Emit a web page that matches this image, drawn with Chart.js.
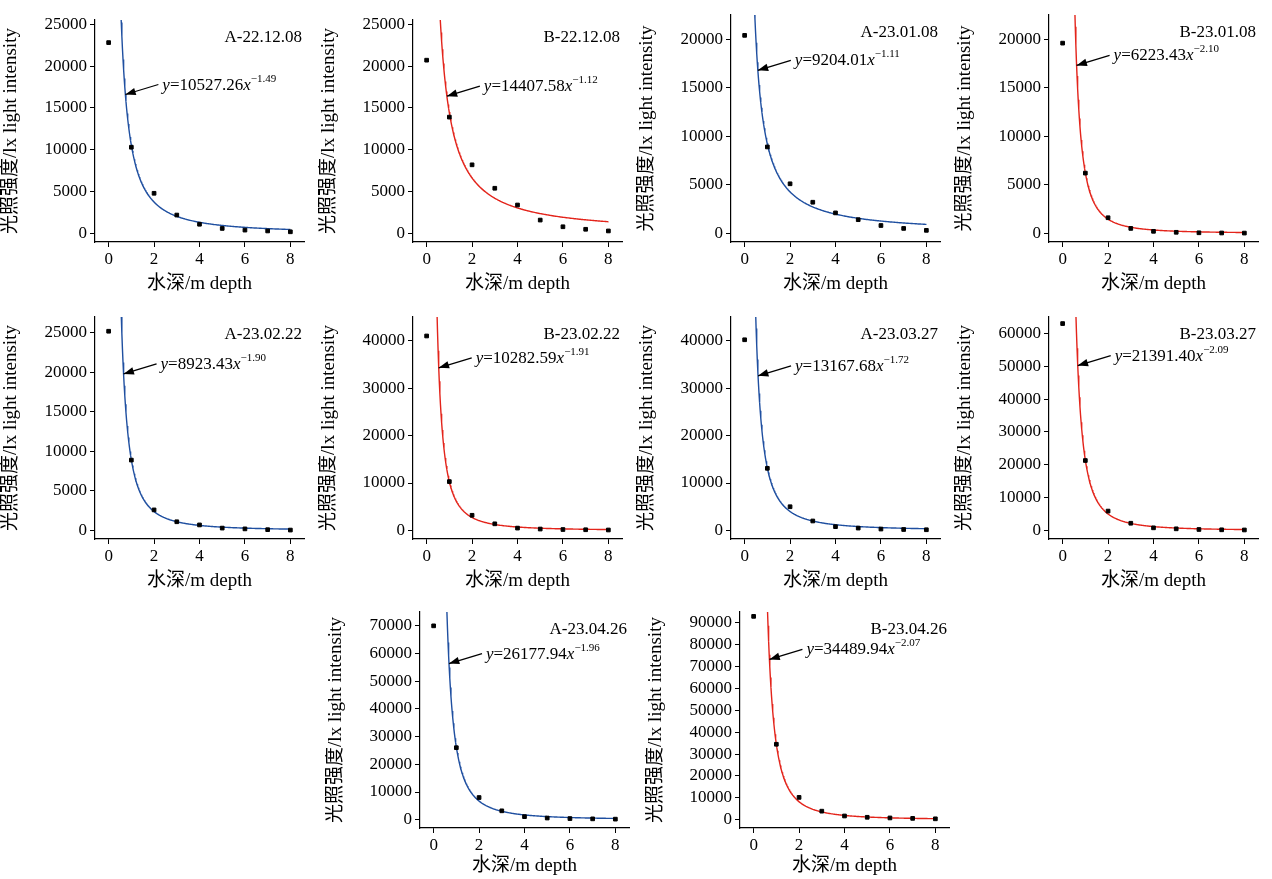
<!DOCTYPE html>
<html><head><meta charset="utf-8">
<script src="https://cdn.jsdelivr.net/npm/chart.js@4/dist/chart.umd.min.js"></script>
<style>
body{margin:0;background:#fff;width:1272px;height:879px;position:relative;overflow:hidden}
.p{position:absolute;width:318px;height:295px}
</style></head><body>
<script>
const depths = [0, 1, 2, 3, 4, 5, 6, 7, 8];
const names = ['A-22.12.08','B-22.12.08','A-23.01.08','B-23.01.08','A-23.02.22','B-23.02.22','A-23.03.27','B-23.03.27','A-23.04.26','B-23.04.26'];
const coefA = [10527.26, 14407.58, 9204.01, 6223.43, 8923.43, 10282.59, 13167.68, 21391.40, 26177.94, 34489.94];
const coefB = [-1.49, -1.12, -1.11, -2.10, -1.90, -1.91, -1.72, -2.09, -1.96, -2.07];
const lightA2212 = [22800, 10300, 4800, 2200, 1100, 600, 400, 300, 200];
const lightB2212 = [20700, 13900, 8200, 5400, 3400, 1600, 800, 500, 300];
const lightA2301 = [20400, 8900, 5100, 3200, 2100, 1400, 800, 500, 300];
const lightB2301 = [19600, 6200, 1600, 500, 200, 100, 50, 30, 20];
const lightA2302 = [25200, 8900, 2600, 1100, 700, 300, 200, 100, 50];
const lightB2302 = [41000, 10300, 3200, 1400, 500, 300, 200, 150, 100];
const lightA2303 = [40200, 13100, 5000, 2000, 800, 500, 300, 200, 150];
const lightB2303 = [63000, 21300, 5900, 2200, 800, 500, 300, 200, 150];
const lightA2304 = [70000, 26000, 8000, 3200, 1100, 600, 400, 300, 200];
const lightB2304 = [93000, 34500, 10200, 3900, 1700, 1100, 800, 600, 400];
const series = [lightA2212, lightB2212, lightA2301, lightB2301, lightA2302, lightB2302, lightA2303, lightB2303, lightA2304, lightB2304];
const yMaxes = [25500, 25500, 22500, 22500, 27000, 45000, 45000, 65000, 75000, 95000];
const ySteps = [5000, 5000, 5000, 5000, 5000, 10000, 10000, 10000, 10000, 10000];
// light value where each arrow touches its curve
const arrowY = [16600, 16400, 16800, 17300, 19800, 34300, 32600, 50200, 56400, 73300];

const pos = [[0,0],[318,0],[636,0],[954,0],[0,297],[318,297],[636,297],[954,297],[325,582],[645,582]];
const BLUE = '#1f4fa0', RED = '#e3241b';
const SERIF = '"Liberation Serif", "Noto Sans CJK SC"';

const annot = {
  id: 'annot',
  afterDatasetsDraw(chart, args, o) {
    const {ctx, chartArea: ca, scales: {x, y}} = chart;
    ctx.save();
    ctx.fillStyle = '#000'; ctx.strokeStyle = '#000';
    ctx.font = '17px "Liberation Serif"';
    ctx.textAlign = 'right'; ctx.textBaseline = 'alphabetic';
    ctx.fillText(o.name, ca.right - 2, ca.top + 22);
    const xv = Math.pow(o.ay / o.a, 1 / o.b);
    const tx = x.getPixelForValue(xv), ty = y.getPixelForValue(o.ay);
    const ex = tx + 33, ey = ty - 10;
    ctx.lineWidth = 1.3;
    ctx.beginPath(); ctx.moveTo(ex, ey); ctx.lineTo(tx, ty); ctx.stroke();
    const ang = Math.atan2(ey - ty, ex - tx);
    ctx.beginPath();
    ctx.moveTo(tx, ty);
    ctx.lineTo(tx + 11 * Math.cos(ang - 0.35), ty + 11 * Math.sin(ang - 0.35));
    ctx.lineTo(tx + 11 * Math.cos(ang + 0.35), ty + 11 * Math.sin(ang + 0.35));
    ctx.closePath(); ctx.fill();
    ctx.textAlign = 'left';
    let cx = ex + 4; const by = ey + 5;
    const put = (t, f, dy) => { ctx.font = f; ctx.fillText(t, cx, by + (dy || 0)); cx += ctx.measureText(t).width; };
    put('y', 'italic 17px "Liberation Serif"');
    put('=' + o.a.toFixed(2), '17px "Liberation Serif"');
    put('x', 'italic 17px "Liberation Serif"');
    put('\u2212' + Math.abs(o.b).toFixed(2), '11px "Liberation Serif"', -8);
    ctx.restore();
  }
};

names.forEach((name, i) => {
  const d = document.createElement('div');
  d.className = 'p'; d.style.left = pos[i][0] + 'px'; d.style.top = pos[i][1] + 'px';
  const c = document.createElement('canvas'); c.width = 318; c.height = 295;
  d.appendChild(c); document.body.appendChild(d);
  const color = name[0] === 'A' ? BLUE : RED;
  const curve = [];
  for (let k = 0; k <= 300; k++) { const xv = 0.3 + k * 7.7 / 300; curve.push({x: xv, y: coefA[i] * Math.pow(xv, coefB[i])}); }
  const step = ySteps[i], ymax = yMaxes[i];
  const bottom = i < 8 ? 53 : 49;
  new Chart(c, {
    type: 'scatter',
    data: { datasets: [
      { data: curve, showLine: true, borderColor: color, borderWidth: 1.4, pointRadius: 0, order: 2 },
      { data: depths.map((x, k) => ({x, y: series[i][k]})), pointStyle: 'rect', pointRadius: 2.6, backgroundColor: '#000', borderColor: '#000', order: 1 }
    ]},
    options: {
      responsive: false, animation: false, devicePixelRatio: 1,
      layout: { padding: { top: i < 8 ? (i === 2 || i === 3 ? 15 : 20) : 30, right: 14 } },
      plugins: { legend: { display: false }, tooltip: { enabled: false },
        annot: { name, a: coefA[i], b: coefB[i], ay: arrowY[i] } },
      scales: {
        x: { type: 'linear', min: -0.6, max: 8.6,
          afterBuildTicks: s => { s.ticks = [0,2,4,6,8].map(v => ({value: v})); },
          afterFit: s => { s.height = bottom; },
          grid: { drawOnChartArea: false, color: '#000', tickLength: 5 },
          border: { color: '#000', width: 1.2 },
          ticks: { color: '#000', font: { family: 'Liberation Serif', size: 17 }, padding: 2 },
          title: { display: true, text: '水深/m depth', color: '#000', font: { family: SERIF, size: 19 }, padding: 0 } },
        y: { min: -ymax * 0.04, max: ymax,
          afterBuildTicks: s => { const t = []; for (let v = 0; v <= ymax; v += step) t.push({value: v}); s.ticks = t; },
          afterFit: s => { s.width = 95; },
          grid: { drawOnChartArea: false, color: '#000', tickLength: 5 },
          border: { color: '#000', width: 1.2 },
          ticks: { color: '#000', font: { family: 'Liberation Serif', size: 17 }, padding: 3, callback: v => String(v) },
          title: { display: true, text: '光照强度/lx light intensity', color: '#000', font: { family: SERIF, size: 19 }, padding: 0 } }
      }
    },
    plugins: [annot]
  });
});
</script>
</body></html>
